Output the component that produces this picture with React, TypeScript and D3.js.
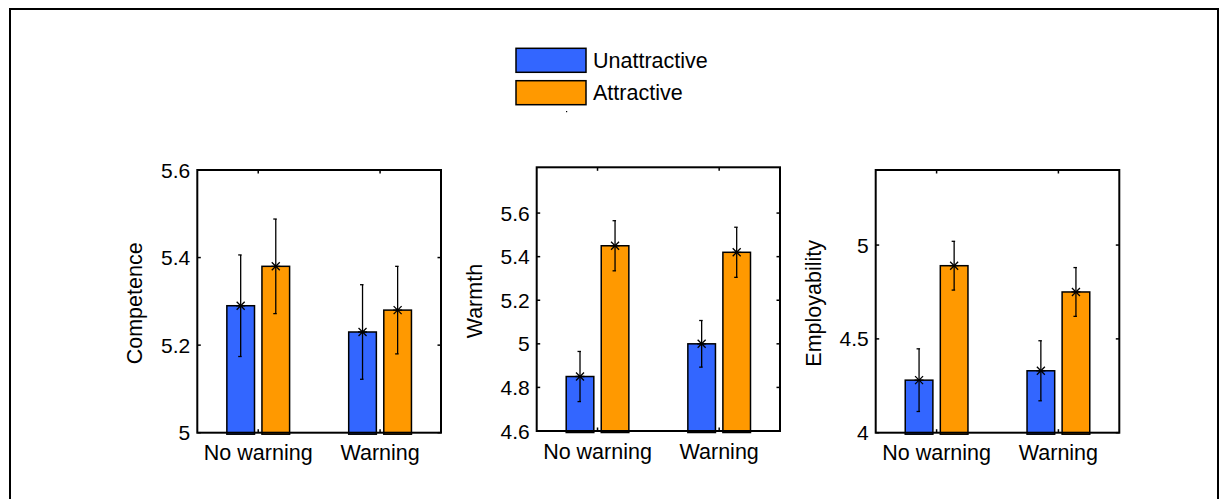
import React from 'react';
import * as d3 from 'd3';

const groups = ['No warning', 'Warning'];
const seriesNames = ['Unattractive', 'Attractive'];
const seriesColors = ['#3366ff', '#ff9900'];

// means per series, one value per group
const competenceUnattr = [5.29, 5.23];
const competenceAttr = [5.38, 5.28];
const competenceErrUnattr = [0.116, 0.108];
const competenceErrAttr = [0.108, 0.1];
const competenceTicks = [5, 5.2, 5.4, 5.6];

const warmthUnattr = [4.85, 5.0];
const warmthAttr = [5.45, 5.42];
const warmthErrUnattr = [0.115, 0.107];
const warmthErrAttr = [0.115, 0.115];
const warmthTicks = [4.6, 4.8, 5, 5.2, 5.4, 5.6];

const employUnattr = [4.28, 4.33];
const employAttr = [4.89, 4.75];
const employErrUnattr = [0.167, 0.16];
const employErrAttr = [0.13, 0.13];
const employTicks = [4, 4.5, 5];

const font = '"Liberation Sans", Arial, sans-serif';

const panels = [
  {
    title: 'Competence', domain: [5, 5.6], ticks: competenceTicks,
    means: [competenceUnattr, competenceAttr], errs: [competenceErrUnattr, competenceErrAttr],
    box: { left: 197.3, right: 441, top: 170, bottom: 432.7 },
  },
  {
    title: 'Warmth', domain: [4.6, 5.81], ticks: warmthTicks,
    means: [warmthUnattr, warmthAttr], errs: [warmthErrUnattr, warmthErrAttr],
    box: { left: 536.7, right: 780, top: 167.3, bottom: 431 },
  },
  {
    title: 'Employability', domain: [4, 5.4], ticks: employTicks,
    means: [employUnattr, employAttr], errs: [employErrUnattr, employErrAttr],
    box: { left: 875.7, right: 1119.3, top: 170, bottom: 432.7 },
  },
];

const barOffset = 0.144;
const barWidth = 0.227;

function Panel({ p }: { p: any }) {
  const { left, right, top, bottom } = p.box;
  const x = d3.scaleLinear().domain([0.5, 2.5]).range([left, right]);
  const y = d3.scaleLinear().domain(p.domain).range([bottom, top]);
  const bw = x(barWidth) - x(0);
  const tl = 3.5;
  return (
    <g>
      {p.means.map((vals: number[], si: number) =>
        vals.map((v, gi) => {
          const cx = x(gi + 1 + (si === 0 ? -barOffset : barOffset));
          const e = p.errs[si][gi];
          const y0 = y(v - e), y1 = y(v + e), yv = y(v);
          return (
            <g key={`${si}-${gi}`}>
              <rect x={cx - bw / 2} y={yv} width={bw} height={bottom + 1.5 - yv}
                fill={seriesColors[si]} stroke="#000" strokeWidth={1.5} />
              <line x1={cx} x2={cx} y1={y0} y2={y1} stroke="#000" strokeWidth={1.3} />
              <line x1={cx - 2.5} x2={cx + 1} y1={y0} y2={y0} stroke="#000" strokeWidth={1.3} />
              <line x1={cx - 2.5} x2={cx + 1} y1={y1} y2={y1} stroke="#000" strokeWidth={1.3} />
              <path d={`M${cx - 4},${yv - 4}L${cx + 4},${yv + 4}M${cx - 4},${yv + 4}L${cx + 4},${yv - 4}M${cx - 4.5},${yv}L${cx + 4.5},${yv}`}
                stroke="#000" strokeWidth={1.3} />
            </g>
          );
        })
      )}
      <rect x={left} y={top} width={right - left} height={bottom - top} fill="none" stroke="#000" strokeWidth={2} />
      {p.ticks.map((t: number) => (
        <g key={t}>
          <line x1={left} x2={left + tl} y1={y(t)} y2={y(t)} stroke="#000" strokeWidth={1.5} />
          <line x1={right} x2={right - tl} y1={y(t)} y2={y(t)} stroke="#000" strokeWidth={1.5} />
          <text x={left - 7} y={y(t)} textAnchor="end" dominantBaseline="central"
            fontFamily={font} fontSize={21}>{String(t)}</text>
        </g>
      ))}
      {groups.map((g, gi) => (
        <g key={g}>
          <line x1={x(gi + 1)} x2={x(gi + 1)} y1={top} y2={top + tl} stroke="#000" strokeWidth={1.5} />
          <line x1={x(gi + 1)} x2={x(gi + 1)} y1={bottom} y2={bottom - tl} stroke="#000" strokeWidth={1.5} />
          <text x={x(gi + 1)} y={bottom + 27.5} textAnchor="middle" fontFamily={font} fontSize={21.5}>{g}</text>
        </g>
      ))}
      <text transform={`translate(${left - 55},${(top + bottom) / 2 + 2}) rotate(-90)`} textAnchor="middle"
        fontFamily={font} fontSize={21.5}>{p.title}</text>
    </g>
  );
}

export default function App() {
  return (
    <svg width={1220} height={499} style={{ position: 'absolute', left: 0, top: 0, display: 'block' }}>
      <rect width={1220} height={499} fill="#fff" />
      <path d="M10,499V9H1218V499" fill="none" stroke="#000" strokeWidth={2} />
      {seriesNames.map((s, i) => (
        <g key={s}>
          <rect x={516} y={48.3 + i * 32.4} width={70} height={24} fill={seriesColors[i]} stroke="#000" strokeWidth={1.5} />
          <text x={593} y={60.8 + i * 32.4} dominantBaseline="central" fontFamily={font} fontSize={21.5}>{s}</text>
        </g>
      ))}
      <rect x={566} y={111} width={1.2} height={1.2} fill="#000" />
      {panels.map((p) => <Panel key={p.title} p={p} />)}
    </svg>
  );
}
